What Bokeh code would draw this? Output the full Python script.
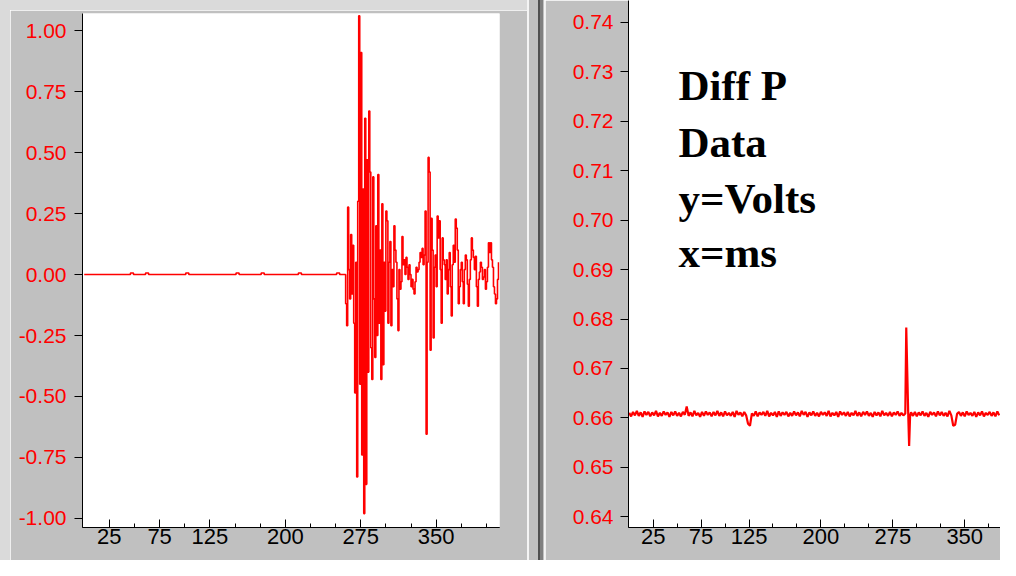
from bokeh.plotting import figure
from bokeh.layouts import row, column
from bokeh.models import Range1d, LinearAxis, FixedTicker, PrintfTickFormatter, Label, Spacer
from bokeh.embed import file_html
from bokeh.resources import INLINE

# ---------------- data ----------------
# x tick marks (ms)
x_major_ticks = [25, 75, 125, 200, 275, 350]
x_minor_ticks = [50, 100, 150, 175, 225, 250, 300, 325, 375, 400]

# left panel y ticks (Volts)
left_y_ticks = [-1.0, -0.75, -0.5, -0.25, 0.0, 0.25, 0.5, 0.75, 1.0]
# right panel y ticks (Volts)
right_y_ticks = [0.64, 0.65, 0.66, 0.67, 0.68, 0.69, 0.70, 0.71, 0.72, 0.73, 0.74]

# left trace: quiet part (ms, V)
quiet_t = [0, 45, 46, 48, 49, 60, 61, 63, 64, 100, 101, 103, 104, 150, 151, 153, 154,
           175, 176, 178, 179, 212, 213, 215, 216, 250, 251, 253, 254, 258]
quiet_v = [0.0, 0.0, 0.006, 0.006, 0.0, 0.0, 0.006, 0.006, 0.0, 0.0, 0.006, 0.006, 0.0,
           0.0, 0.006, 0.006, 0.0, 0.0, 0.006, 0.006, 0.0, 0.0, 0.006, 0.006, 0.0,
           0.0, 0.006, 0.006, 0.0, 0.0]

# left trace: burst, one sample per ms starting at 259 ms
burst_start = 259
burst_v = [
    0.00, -0.12, -0.21, 0.276, 0.02, -0.10, 0.164, -0.08, 0.12, -0.20,      # 259-268
    -0.485, 0.05, -0.83, 0.30, 1.06, -0.45, 0.91, -0.74, 0.35, -0.98,      # 269-278
    0.64, -0.86, 0.47, -0.40, 0.67, 0.42, -0.30, -0.43, 0.40, -0.10,       # 279-288
    -0.34, 0.20, -0.25, 0.41, -0.20, 0.10, -0.43, 0.29, -0.37, 0.05,       # 289-298
    -0.15, 0.26, 0.22, -0.20, 0.05, 0.135, -0.21, 0.02, -0.05, 0.20,       # 299-308
    0.10, 0.05, -0.10, -0.23, 0.02, -0.06, -0.03, 0.156, 0.04, 0.06,       # 309-318
    0.00, 0.07, 0.03, -0.02, 0.04, 0.00, -0.05, -0.02, -0.06, -0.08,       # 319-328
    -0.03, 0.03, 0.01, 0.02, 0.05, 0.09, 0.07, 0.107, 0.04, 0.08,          # 329-338
    0.26, -0.655, 0.05, 0.48, 0.42, -0.31, 0.23, 0.10, -0.26, 0.03,        # 339-348
    0.08, -0.05, 0.24, 0.15, 0.22, 0.02, -0.20, 0.15, 0.06, 0.04,          # 349-358
    -0.02, 0.06, -0.08, 0.02, 0.09, -0.05, -0.17, 0.04, 0.12, 0.05,        # 359-368
    0.227, 0.19, 0.10, -0.12, -0.05, 0.02, 0.05, -0.03, -0.12, 0.02,       # 369-378
    0.08, 0.06, -0.04, -0.13, -0.02, 0.06, 0.15, 0.10, 0.07, 0.02,         # 379-388
    0.075, -0.05, -0.13, -0.02, 0.01, 0.05, 0.03, -0.02, -0.01, 0.02,      # 389-398
    -0.06, -0.03, 0.03, 0.13, 0.09, 0.13, 0.06, 0.03, -0.05, -0.08,        # 399-408
    -0.12, -0.10, -0.02, 0.05,                                             # 409-412
]
burst_t = list(range(burst_start, burst_start + len(burst_v)))

# right trace (ms, V): baseline noise every 2 ms, the spike around 289 ms, then noise again
right_pre_v = [
    0.6610, 0.6603, 0.6612, 0.6605, 0.6614, 0.6604, 0.6611, 0.6602, 0.6613, 0.6606, 0.6612, 0.6603,
    0.6611, 0.6605, 0.6614, 0.6603, 0.6610, 0.6604, 0.6613, 0.6606, 0.6611, 0.6602, 0.6612, 0.6605,
    0.6613, 0.6604, 0.6610, 0.6603, 0.6612, 0.6606, 0.6623, 0.6604, 0.6611, 0.6603, 0.6614, 0.6605,
    0.6610, 0.6602, 0.6612, 0.6604, 0.6613, 0.6606, 0.6611, 0.6603, 0.6612, 0.6605, 0.6614, 0.6604,
    0.6611, 0.6603, 0.6613, 0.6605, 0.6610, 0.6604, 0.6612, 0.6602, 0.6614, 0.6606, 0.6611, 0.6603,
    0.6612, 0.6605, 0.6588, 0.6584, 0.6609, 0.6604, 0.6613, 0.6603, 0.6611, 0.6606, 0.6612, 0.6604,
    0.6614, 0.6603, 0.6610, 0.6605, 0.6612, 0.6602, 0.6613, 0.6604, 0.6611, 0.6606, 0.6612, 0.6603,
    0.6610, 0.6604, 0.6613, 0.6605, 0.6611, 0.6603, 0.6614, 0.6606, 0.6612, 0.6602, 0.6611, 0.6605,
    0.6613, 0.6604, 0.6610, 0.6603, 0.6612, 0.6606, 0.6611, 0.6604, 0.6614, 0.6603, 0.6610, 0.6605,
    0.6612, 0.6602, 0.6613, 0.6606, 0.6611, 0.6604, 0.6612, 0.6603, 0.6610, 0.6605, 0.6614, 0.6604,
    0.6611, 0.6603, 0.6612, 0.6606, 0.6613, 0.6604, 0.6610, 0.6602, 0.6612, 0.6605, 0.6611, 0.6603,
    0.6614, 0.6605, 0.6610, 0.6604, 0.6612, 0.6603, 0.6611, 0.6606, 0.6613, 0.6604, 0.6610, 0.6605,
]
right_pre_t = list(range(0, 2 * len(right_pre_v), 2))
spike_t = [288, 289, 290, 291, 292, 293, 294]
spike_v = [0.6609, 0.6783, 0.6697, 0.6612, 0.6543, 0.6604, 0.6611]
right_post_v = [
    0.6604, 0.6612, 0.6603, 0.6611, 0.6605, 0.6613, 0.6604, 0.6610, 0.6602, 0.6612,
    0.6606, 0.6611, 0.6603, 0.6613, 0.6605, 0.6612, 0.6604, 0.6610, 0.6603, 0.6614,
    0.6605, 0.6584, 0.6586, 0.6608, 0.6612, 0.6604, 0.6611, 0.6603, 0.6613, 0.6606,
    0.6610, 0.6604, 0.6612, 0.6602, 0.6611, 0.6605, 0.6613, 0.6603, 0.6610, 0.6606,
    0.6612, 0.6604, 0.6611, 0.6603, 0.6613, 0.6605,
]
right_post_t = list(range(296, 296 + 2 * len(right_post_v), 2))

annotation_lines = ["Diff P", "Data", "y=Volts", "x=ms"]
annotation_y = [0.72725, 0.71578, 0.70433, 0.69352]

# ---------------- styles ----------------
RED = "#ff0000"
GREY = "#c0c0c0"
LIGHT = "#dadada"
YFONT = "'Liberation Sans', Arial, sans-serif"
XFONT = "'Liberation Sans Narrow', 'Liberation Sans', Arial, sans-serif"


def style_y(p, ticks, standoff):
    ax = p.yaxis[0]
    ax.ticker = FixedTicker(ticks=ticks)
    ax.formatter = PrintfTickFormatter(format="%.2f")
    ax.major_tick_out = 8
    ax.major_tick_in = 0
    ax.minor_tick_out = 0
    ax.minor_tick_in = 0
    ax.major_label_standoff = standoff
    ax.major_label_text_color = RED
    ax.major_label_text_font = YFONT
    ax.major_label_text_font_size = "21px"
    ax.axis_line_color = "black"
    ax.major_tick_line_color = "black"


def add_x_axes(p):
    # spacer axis without ticks: draws the frame's bottom edge and leaves a gap
    a1 = LinearAxis(ticker=FixedTicker(ticks=[]), major_tick_out=8, major_tick_in=0,
                    minor_tick_out=0, minor_tick_in=0, major_label_standoff=0,
                    axis_line_color="black")
    # labelled axis, ticks pointing up toward the plot
    a2 = LinearAxis(ticker=FixedTicker(ticks=x_major_ticks, minor_ticks=x_minor_ticks),
                    major_tick_out=0, major_tick_in=8,
                    minor_tick_out=0, minor_tick_in=4,
                    major_tick_line_color="black", minor_tick_line_color="black",
                    axis_line_color="black", major_label_standoff=1,
                    major_label_text_font=XFONT, major_label_text_font_size="22px",
                    major_label_text_color="black")
    p.add_layout(a1, "below")
    p.add_layout(a2, "below")


# ---------------- left panel ----------------
left = figure(width=517, height=550, x_range=Range1d(-1.7, 413.0),
              y_range=Range1d(-1.0369, 1.0697), x_axis_location=None,
              output_backend="svg", toolbar_location=None,
              min_border_left=72, min_border_right=28, min_border_top=3,
              min_border_bottom=33, border_fill_color=GREY,
              background_fill_color="white", outline_line_color=None)
left.grid.visible = False
style_y(left, left_y_ticks, 8)
add_x_axes(left)
left.step(quiet_t + burst_t, quiet_v + burst_v, mode="after", color=RED, line_width=1.6)

# ---------------- right panel ----------------
right = figure(width=455, height=560, x_range=Range1d(-0.7, 387.3),
               y_range=Range1d(0.63781, 0.74445), x_axis_location=None,
               output_backend="svg", toolbar_location=None,
               min_border_left=83, min_border_right=0, min_border_top=0,
               min_border_bottom=33, border_fill_color=GREY,
               background_fill_color="white", outline_line_color=None)
right.grid.visible = False
style_y(right, right_y_ticks, 7)
add_x_axes(right)
right.line(right_pre_t + spike_t + right_post_t, right_pre_v + spike_v + right_post_v,
           color=RED, line_width=2.2)

for txt, yv in zip(annotation_lines, annotation_y):
    right.add_layout(Label(x=51.4, y=yv, text=txt,
                           text_font="'Liberation Serif', 'Times New Roman', serif",
                           text_font_style="bold", text_font_size="43px",
                           text_color="black", text_baseline="alphabetic", text_align="left"))

# window frame pieces: light outer edge and the splitter between the two panels
edge_left = Spacer(width=10, height=560, styles={"background-color": LIGHT})
edge_top = Spacer(width=517, height=10, styles={"background-color": LIGHT})
splitter = Spacer(width=18, height=560, styles={
    "background": "linear-gradient(to right, #f4f4f4 0px, #f4f4f4 2px, #c0c0c0 2px, "
                  "#c0c0c0 11px, #505050 11px, #505050 13px, #808080 13px, #808080 16px, "
                  "#c0c0c0 16px, #c0c0c0 17px, #f4f4f4 17px, #f4f4f4 18px)"})

p = row(edge_left, column(edge_top, left), splitter, right)
open("out.html", "w").write(file_html(p, INLINE))
